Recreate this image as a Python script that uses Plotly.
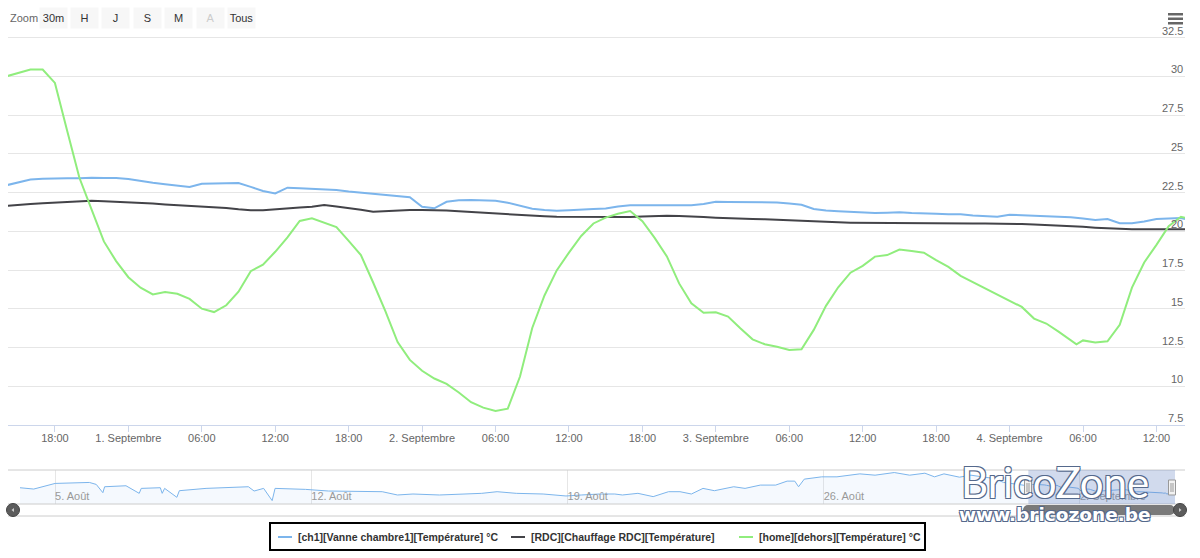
import pandas as pd
import plotly.graph_objects as go

# ---------------- data ----------------
hours = list(pd.date_range("2018-08-31 14:00", periods=97, freq="h")) + [pd.Timestamp("2018-09-04 14:20")]

ch1_name = "[ch1][Vanne chambre1][Température] °C"
rdc_name = "[RDC][Chauffage RDC][Température]"
home_name = "[home][dehors][Température] °C"

ch1_vals = [22.97, 23.16, 23.34, 23.39, 23.42, 23.42, 23.42, 23.46, 23.45, 23.44,
            23.38, 23.24, 23.14, 23.04, 22.95, 22.86, 23.07, 23.09, 23.11, 23.12,
            22.87, 22.61, 22.45, 22.82, 22.78, 22.75, 22.71, 22.67, 22.57, 22.49,
            22.42, 22.36, 22.29, 22.20, 21.59, 21.49, 21.91, 22.00, 22.02, 22.02,
            21.98, 21.85, 21.64, 21.46, 21.38, 21.33, 21.36, 21.42, 21.44, 21.47,
            21.60, 21.68, 21.68, 21.68, 21.68, 21.68, 21.68, 21.76, 21.91, 21.90,
            21.89, 21.88, 21.88, 21.87, 21.80, 21.72, 21.44, 21.34, 21.30, 21.27,
            21.23, 21.18, 21.20, 21.23, 21.18, 21.14, 21.13, 21.11, 21.10, 21.03,
            20.98, 20.94, 21.07, 21.05, 21.03, 20.98, 20.94, 20.91, 20.83, 20.74,
            20.80, 20.52, 20.52, 20.63, 20.80, 20.81, 20.86, 20.80]

rdc_vals = [21.65, 21.69, 21.76, 21.82, 21.87, 21.91, 21.94, 21.98, 21.95, 21.92,
            21.89, 21.85, 21.80, 21.74, 21.70, 21.65, 21.62, 21.59, 21.51, 21.42,
            21.36, 21.36, 21.43, 21.51, 21.54, 21.59, 21.70, 21.61, 21.52, 21.39,
            21.27, 21.32, 21.36, 21.38, 21.38, 21.38, 21.34, 21.30, 21.25, 21.21,
            21.16, 21.10, 21.03, 21.00, 20.97, 20.94, 20.93, 20.92, 20.92, 20.92,
            20.92, 20.92, 20.96, 20.99, 21.01, 20.99, 20.97, 20.92, 20.88, 20.84,
            20.82, 20.80, 20.78, 20.74, 20.70, 20.66, 20.63, 20.59, 20.58, 20.56,
            20.55, 20.54, 20.53, 20.53, 20.52, 20.52, 20.52, 20.51, 20.50, 20.50,
            20.50, 20.50, 20.50, 20.47, 20.45, 20.42, 20.38, 20.33, 20.29, 20.24,
            20.20, 20.16, 20.13, 20.13, 20.13, 20.13, 20.13, 20.13]

home_times = hours[:88] + [pd.Timestamp("2018-09-04 05:28")] + hours[88:]
home_vals = [30.00, 30.25, 30.45, 30.45, 29.58, 26.50, 23.46, 21.40, 19.35, 18.08,
             17.04, 16.36, 15.93, 16.09, 15.97, 15.64, 15.01, 14.79, 15.23, 16.10,
             17.43, 17.85, 18.68, 19.61, 20.67, 20.84, 20.56, 20.27, 19.38, 18.47,
             16.70, 14.85, 12.85, 11.70, 11.00, 10.50, 10.15, 9.60, 8.97, 8.62,
             8.41, 8.55, 10.63, 13.76, 15.86, 17.48, 18.63, 19.70, 20.51, 20.89,
             21.14, 21.31, 20.65, 19.58, 18.38, 16.64, 15.35, 14.75, 14.77, 14.50,
             13.74, 13.03, 12.71, 12.55, 12.34, 12.39, 13.64, 15.19, 16.39, 17.33,
             17.77, 18.37, 18.47, 18.83, 18.73, 18.62, 18.14, 17.71, 17.13, 16.73,
             16.33, 15.95, 15.53, 15.12, 14.37, 14.05, 13.53, 13.01, 12.71,
             12.96, 12.83, 12.90, 13.97, 16.37, 17.99, 19.13, 20.34, 20.94, 20.88]

# navigator history of ch1 (before the zoomed window)
nav_hist_times = ["2018-08-04 01:00", "2018-08-04 10:00", "2018-08-05 00:00", "2018-08-05 22:30",
                  "2018-08-06 03:00", "2018-08-06 07:20", "2018-08-06 08:30", "2018-08-06 22:30",
                  "2018-08-07 07:10", "2018-08-07 08:30", "2018-08-07 21:00", "2018-08-07 22:15",
                  "2018-08-07 23:50", "2018-08-08 07:50", "2018-08-08 09:30", "2018-08-09 03:00",
                  "2018-08-10 06:45", "2018-08-10 10:30", "2018-08-10 16:45", "2018-08-10 22:20",
                  "2018-08-11 00:15", "2018-08-11 20:15", "2018-08-12 11:20", "2018-08-13 05:00",
                  "2018-08-13 22:30", "2018-08-14 08:30", "2018-08-14 18:40", "2018-08-15 12:00",
                  "2018-08-16 08:15", "2018-08-16 15:45", "2018-08-17 01:50", "2018-08-17 14:25",
                  "2018-08-18 08:00", "2018-08-18 23:00", "2018-08-19 09:00", "2018-08-19 21:00",
                  "2018-08-20 07:00", "2018-08-20 12:00", "2018-08-20 22:10", "2018-08-21 08:10",
                  "2018-08-21 18:15", "2018-08-22 01:45", "2018-08-22 09:15", "2018-08-22 16:50",
                  "2018-08-23 00:20", "2018-08-23 13:00", "2018-08-23 20:25", "2018-08-24 06:25",
                  "2018-08-24 16:30", "2018-08-25 00:00", "2018-08-25 05:00", "2018-08-25 07:30",
                  "2018-08-25 11:15", "2018-08-25 22:40", "2018-08-26 08:40", "2018-08-26 23:40",
                  "2018-08-27 09:40", "2018-08-27 22:15", "2018-08-28 08:20", "2018-08-28 18:20",
                  "2018-08-29 00:40", "2018-08-29 06:50", "2018-08-29 17:00", "2018-08-30 00:30",
                  "2018-08-30 15:30", "2018-08-30 22:00", "2018-08-31 06:00"]
nav_hist_vals = [22.4, 22.0, 23.7, 24.0, 23.4, 20.9, 22.7, 23.0, 20.7, 22.2, 22.4, 20.7,
                 22.2, 19.5, 21.5, 22.2, 22.7, 21.4, 22.2, 18.5, 22.2, 21.9, 21.4, 21.2,
                 21.2, 20.2, 20.5, 20.2, 20.5, 20.7, 21.2, 20.7, 20.5, 19.9, 20.2, 20.5,
                 20.5, 20.2, 20.7, 19.7, 21.2, 21.2, 20.5, 22.2, 21.5, 22.7, 22.2, 23.2,
                 23.2, 24.4, 24.4, 22.7, 25.0, 25.7, 25.7, 26.6, 26.2, 27.0, 26.2, 26.8,
                 25.7, 26.6, 25.6, 26.2, 25.2, 24.0, 23.5]

x_tick_vals = ["2018-08-31 18:00", "2018-09-01 00:00", "2018-09-01 06:00", "2018-09-01 12:00",
               "2018-09-01 18:00", "2018-09-02 00:00", "2018-09-02 06:00", "2018-09-02 12:00",
               "2018-09-02 18:00", "2018-09-03 00:00", "2018-09-03 06:00", "2018-09-03 12:00",
               "2018-09-03 18:00", "2018-09-04 00:00", "2018-09-04 06:00", "2018-09-04 12:00"]
x_tick_text = ["18:00", "1. Septembre", "06:00", "12:00", "18:00", "2. Septembre", "06:00", "12:00",
               "18:00", "3. Septembre", "06:00", "12:00", "18:00", "4. Septembre", "06:00", "12:00"]

y_tick_vals = [7.5, 10, 12.5, 15, 17.5, 20, 22.5, 25, 27.5, 30, 32.5]
y_tick_text = ["7.5", "10", "12.5", "15", "17.5", "20", "22.5", "25", "27.5", "30", "32.5"]

nav_tick_vals = ["2018-08-05", "2018-08-12", "2018-08-19", "2018-08-26", "2018-09-02"]
nav_tick_text = ["5. Août", "12. Août", "19. Août", "26. Août", "2. Septembre"]

zoom_buttons = ["30m", "H", "J", "S", "M", "A", "Tous"]

view_start, view_end = "2018-08-31 14:10", "2018-09-04 14:20"
nav_start, nav_end = "2018-08-04 01:00", "2018-09-04 14:20"

# ---------------- geometry helpers ----------------
W, H = 1200, 558
L, R, T, B = 8, 1185, 26, 504
PLOT_BOTTOM, GRID_TOP = 425, 37.7
def fx(px):
    return (px - L) / (R - L)
def fy(py):
    return (B - py) / (B - T)

units_per_px = 25.0 / (PLOT_BOTTOM - GRID_TOP)
y_top = 32.5 + (GRID_TOP - T) * units_per_px

FONT = "Liberation Sans, Arial, sans-serif"
BLUE, DARK, GREEN = "#7cb5ec", "#434348", "#90ed7d"

fig = go.Figure()
fig.add_trace(go.Scatter(x=hours, y=ch1_vals, name=ch1_name, mode="lines",
                         line=dict(color=BLUE, width=2), showlegend=False))
fig.add_trace(go.Scatter(x=hours, y=rdc_vals, name=rdc_name, mode="lines",
                         line=dict(color=DARK, width=2), showlegend=False))
fig.add_trace(go.Scatter(x=home_times, y=home_vals, name=home_name, mode="lines",
                         line=dict(color=GREEN, width=2), showlegend=False))

nav_x = [pd.Timestamp(t) for t in nav_hist_times] + hours
nav_y = nav_hist_vals + ch1_vals
fig.add_trace(go.Scatter(x=nav_x, y=nav_y, xaxis="x2", yaxis="y2", mode="lines",
                         line=dict(color=BLUE, width=1), fill="tozeroy",
                         fillcolor="rgba(124,181,236,0.08)", showlegend=False,
                         hoverinfo="skip"))

shapes = []
for yy in (470, 504):
    shapes.append(dict(type="line", xref="paper", yref="paper", x0=fx(8), x1=fx(1185),
                       y0=fy(yy), y1=fy(yy), line=dict(color="#cccccc", width=1)))
shapes.append(dict(type="rect", xref="x2", yref="paper", x0=view_start, x1=view_end,
                   y0=fy(504), y1=fy(470), fillcolor="rgba(102,133,194,0.3)",
                   line=dict(width=0), layer="above"))
for hpx in (1028, 1172):
    shapes.append(dict(type="rect", xref="paper", yref="paper", x0=fx(hpx - 3.5), x1=fx(hpx + 3.5),
                       y0=fy(495), y1=fy(480), fillcolor="#f2f2f2",
                       line=dict(color="#999999", width=1)))
    for dx in (-1, 1):
        shapes.append(dict(type="line", xref="paper", yref="paper", x0=fx(hpx + dx), x1=fx(hpx + dx),
                           y0=fy(492), y1=fy(483), line=dict(color="#999999", width=1)))
shapes.append(dict(type="line", xref="paper", yref="paper", x0=fx(8), x1=fx(1185),
                   y0=fy(516), y1=fy(516), line=dict(color="#cccccc", width=1)))
shapes.append(dict(type="rect", xref="paper", yref="paper", x0=fx(1028), x1=fx(1170),
                   y0=fy(515), y1=fy(505), fillcolor="#7a7a7a", line=dict(width=0)))
for cx in (1028, 1170):
    shapes.append(dict(type="circle", xref="paper", yref="paper", x0=fx(cx - 5), x1=fx(cx + 5),
                       y0=fy(515), y1=fy(505), fillcolor="#7a7a7a", line=dict(width=0)))
for cx in (13, 1180):
    shapes.append(dict(type="circle", xref="paper", yref="paper", x0=fx(cx - 6.5), x1=fx(cx + 6.5),
                       y0=fy(516.5), y1=fy(503.5), fillcolor="#5c5c5c",
                       line=dict(color="#444444", width=1)))
def tri(points):
    p = "M " + " L ".join(f"{fx(a)},{fy(b)}" for a, b in points) + " Z"
    return dict(type="path", xref="paper", yref="paper", path=p, fillcolor="#cccccc",
                line=dict(width=0))
shapes.append(tri([(11.5, 510), (14, 508), (14, 512)]))
shapes.append(tri([(1181.5, 510), (1179, 508), (1179, 512)]))
for yy in (13, 17.5, 22):
    shapes.append(dict(type="rect", xref="paper", yref="paper", x0=fx(1168), x1=fx(1183),
                       y0=fy(yy + 2.5), y1=fy(yy), fillcolor="#666666", line=dict(width=0)))

# legend box
LEG_Y = 537
shapes.append(dict(type="rect", xref="paper", yref="paper", x0=fx(270), x1=fx(925),
                   y0=fy(550), y1=fy(523), fillcolor="white",
                   line=dict(color="#000000", width=2)))
legend_items = [(ch1_name, BLUE, 278), (rdc_name, DARK, 511), (home_name, GREEN, 739)]
annotations = []
for name, col, sx in legend_items:
    shapes.append(dict(type="line", xref="paper", yref="paper", x0=fx(sx), x1=fx(sx + 14),
                       y0=fy(LEG_Y), y1=fy(LEG_Y), line=dict(color=col, width=2)))
    annotations.append(dict(text=name, xref="paper", yref="paper", x=fx(sx + 18), y=fy(LEG_Y),
                            xanchor="left", yanchor="middle", showarrow=False,
                            font=dict(family=FONT, size=10.5, color="#333333", weight="bold")))

# y-axis labels (right side, just above each grid line)
for v, t in zip(y_tick_vals, y_tick_text):
    annotations.append(dict(text=t, xref="paper", yref="y", x=1, y=v, xanchor="right",
                            yanchor="bottom", yshift=-1, showarrow=False,
                            font=dict(family=FONT, size=11, color="#666666")))

annotations.append(dict(text="Zoom", xref="paper", yref="paper", x=fx(8), y=fy(18),
                        xanchor="left", yanchor="middle", showarrow=False,
                        font=dict(family=FONT, size=11, color="#666666")))
btn_centers = [53.5, 84.5, 115.5, 147.5, 178.5, 210, 241.5]
for label, cx in zip(zoom_buttons, btn_centers):
    annotations.append(dict(text=label, xref="paper", yref="paper", x=fx(cx), y=fy(18),
                            xanchor="center", yanchor="middle", showarrow=False,
                            width=25, height=18, borderpad=1, bgcolor="#f7f7f7",
                            font=dict(family=FONT, size=11,
                                      color="#cccccc" if label == "A" else "#333333")))
outline = ("-1px -1px 0 #55698c, 1px -1px 0 #55698c, -1px 1px 0 #55698c, 1px 1px 0 #55698c")
annotations.append(dict(text="BricoZone", xref="paper", yref="paper", x=fx(1055), y=fy(482),
                        xanchor="center", yanchor="middle", showarrow=False,
                        font=dict(family="Lato, sans-serif", size=42, color="white",
                                  shadow=outline)))
annotations.append(dict(text="www.bricozone.be", xref="paper", yref="paper", x=fx(1055), y=fy(514),
                        xanchor="center", yanchor="middle", showarrow=False,
                        font=dict(family="DejaVu Sans, sans-serif", size=18.5, color="white",
                                  weight="bold", shadow=outline)))

fig.update_layout(
    width=W, height=H,
    margin=dict(l=L, r=W - R, t=T, b=H - B, autoexpand=False),
    paper_bgcolor="white", plot_bgcolor="white",
    font=dict(family=FONT, size=11, color="#666666"),
    showlegend=False,
    xaxis=dict(domain=[0, 1], range=[view_start, view_end], anchor="y",
               tickvals=x_tick_vals, ticktext=x_tick_text, ticks="outside", ticklen=6,
               tickcolor="#ccd6eb", showline=True, linecolor="#ccd6eb", linewidth=1,
               ticklabelstandoff=-3,
               showgrid=False, zeroline=False, tickfont=dict(size=11, color="#666666")),
    yaxis=dict(domain=[fy(PLOT_BOTTOM), 1], range=[7.5, y_top],
               tickvals=y_tick_vals, showticklabels=False, side="right",
               showgrid=True, gridcolor="#e6e6e6",
               zeroline=False, showline=False, ticks=""),
    xaxis2=dict(domain=[fx(20), fx(1175)], range=[nav_start, nav_end], anchor="y2",
                tickvals=nav_tick_vals, ticktext=nav_tick_text, ticklabelposition="inside right",
                ticklabelstandoff=-4,
                showgrid=True, gridcolor="#e6e6e6", showline=False, ticks="", zeroline=False,
                tickfont=dict(size=11, color="#999999")),
    yaxis2=dict(domain=[0, fy(470)], range=[17.47, 27.77], visible=False, showgrid=False),
    shapes=shapes,
    annotations=annotations,
)

fig.write_html("out.html")
